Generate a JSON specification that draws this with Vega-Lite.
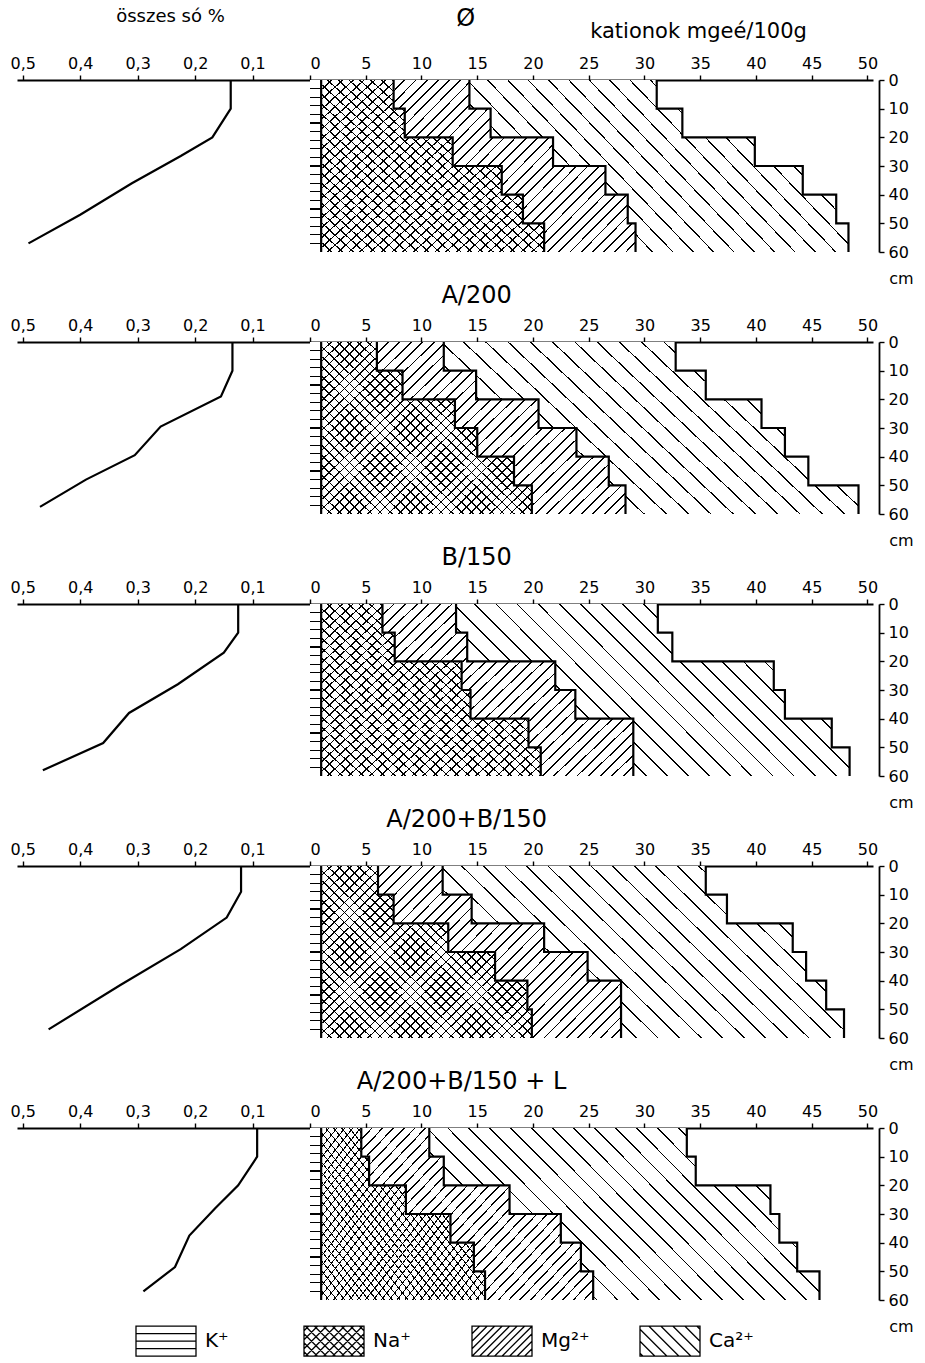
{
  "$schema": "https://vega.github.io/schema/vega-lite/v6.json",
  "background": "white",
  "padding": {"left": 10, "top": 7, "right": 5, "bottom": 5},
  "config": {
    "view": {"stroke": null},
    "font": "DejaVu Sans",
    "axis": {"domainColor": "black", "domainWidth": 1.8, "tickColor": "black", "tickWidth": 1.4, "tickSize": 5, "labelFontSize": 16, "labelColor": "black", "labelFont": "DejaVu Sans", "labelPadding": 4, "grid": false, "titleFont": "DejaVu Sans", "titleFontWeight": "normal", "titleFontSize": 18, "titleColor": "black"},
    "title": {"fontSize": 24, "font": "DejaVu Sans", "fontWeight": "normal", "color": "black", "anchor": "middle", "offset": 9}
  },
  "params": [
    {"name": "gK", "value": {"gradient": "linear", "x1": 0, "y1": 0, "x2": 0, "y2": 1, "stops": [
        {"offset":0.046,"color":"#fff"},{"offset":0.046,"color":"#000"},{"offset":0.054,"color":"#000"},{"offset":0.054,"color":"#fff"},
        {"offset":0.096,"color":"#fff"},{"offset":0.096,"color":"#000"},{"offset":0.104,"color":"#000"},{"offset":0.104,"color":"#fff"},
        {"offset":0.146,"color":"#fff"},{"offset":0.146,"color":"#000"},{"offset":0.154,"color":"#000"},{"offset":0.154,"color":"#fff"},
        {"offset":0.196,"color":"#fff"},{"offset":0.196,"color":"#000"},{"offset":0.204,"color":"#000"},{"offset":0.204,"color":"#fff"},
        {"offset":0.246,"color":"#fff"},{"offset":0.246,"color":"#000"},{"offset":0.254,"color":"#000"},{"offset":0.254,"color":"#fff"},
        {"offset":0.296,"color":"#fff"},{"offset":0.296,"color":"#000"},{"offset":0.304,"color":"#000"},{"offset":0.304,"color":"#fff"},
        {"offset":0.346,"color":"#fff"},{"offset":0.346,"color":"#000"},{"offset":0.354,"color":"#000"},{"offset":0.354,"color":"#fff"},
        {"offset":0.396,"color":"#fff"},{"offset":0.396,"color":"#000"},{"offset":0.404,"color":"#000"},{"offset":0.404,"color":"#fff"},
        {"offset":0.446,"color":"#fff"},{"offset":0.446,"color":"#000"},{"offset":0.454,"color":"#000"},{"offset":0.454,"color":"#fff"},
        {"offset":0.496,"color":"#fff"},{"offset":0.496,"color":"#000"},{"offset":0.504,"color":"#000"},{"offset":0.504,"color":"#fff"},
        {"offset":0.546,"color":"#fff"},{"offset":0.546,"color":"#000"},{"offset":0.554,"color":"#000"},{"offset":0.554,"color":"#fff"},
        {"offset":0.596,"color":"#fff"},{"offset":0.596,"color":"#000"},{"offset":0.604,"color":"#000"},{"offset":0.604,"color":"#fff"},
        {"offset":0.646,"color":"#fff"},{"offset":0.646,"color":"#000"},{"offset":0.654,"color":"#000"},{"offset":0.654,"color":"#fff"},
        {"offset":0.696,"color":"#fff"},{"offset":0.696,"color":"#000"},{"offset":0.704,"color":"#000"},{"offset":0.704,"color":"#fff"},
        {"offset":0.746,"color":"#fff"},{"offset":0.746,"color":"#000"},{"offset":0.754,"color":"#000"},{"offset":0.754,"color":"#fff"},
        {"offset":0.796,"color":"#fff"},{"offset":0.796,"color":"#000"},{"offset":0.804,"color":"#000"},{"offset":0.804,"color":"#fff"},
        {"offset":0.846,"color":"#fff"},{"offset":0.846,"color":"#000"},{"offset":0.854,"color":"#000"},{"offset":0.854,"color":"#fff"},
        {"offset":0.896,"color":"#fff"},{"offset":0.896,"color":"#000"},{"offset":0.904,"color":"#000"},{"offset":0.904,"color":"#fff"},
        {"offset":0.946,"color":"#fff"},{"offset":0.946,"color":"#000"},{"offset":0.954,"color":"#000"},{"offset":0.954,"color":"#fff"}
      ]}},
    {"name": "gNa", "value": {"gradient": "linear", "x1": 0, "y1": 0, "x2": 1.131, "y2": 0.95, "stops": [
        {"offset":0.023,"color":"#fff"},{"offset":0.023,"color":"#000"},{"offset":0.027,"color":"#000"},{"offset":0.027,"color":"#fff"},
        {"offset":0.048,"color":"#fff"},{"offset":0.048,"color":"#000"},{"offset":0.052,"color":"#000"},{"offset":0.052,"color":"#fff"},
        {"offset":0.073,"color":"#fff"},{"offset":0.073,"color":"#000"},{"offset":0.077,"color":"#000"},{"offset":0.077,"color":"#fff"},
        {"offset":0.098,"color":"#fff"},{"offset":0.098,"color":"#000"},{"offset":0.102,"color":"#000"},{"offset":0.102,"color":"#fff"},
        {"offset":0.123,"color":"#fff"},{"offset":0.123,"color":"#000"},{"offset":0.127,"color":"#000"},{"offset":0.127,"color":"#fff"},
        {"offset":0.148,"color":"#fff"},{"offset":0.148,"color":"#000"},{"offset":0.152,"color":"#000"},{"offset":0.152,"color":"#fff"},
        {"offset":0.173,"color":"#fff"},{"offset":0.173,"color":"#000"},{"offset":0.177,"color":"#000"},{"offset":0.177,"color":"#fff"},
        {"offset":0.198,"color":"#fff"},{"offset":0.198,"color":"#000"},{"offset":0.202,"color":"#000"},{"offset":0.202,"color":"#fff"},
        {"offset":0.223,"color":"#fff"},{"offset":0.223,"color":"#000"},{"offset":0.227,"color":"#000"},{"offset":0.227,"color":"#fff"},
        {"offset":0.248,"color":"#fff"},{"offset":0.248,"color":"#000"},{"offset":0.252,"color":"#000"},{"offset":0.252,"color":"#fff"},
        {"offset":0.273,"color":"#fff"},{"offset":0.273,"color":"#000"},{"offset":0.277,"color":"#000"},{"offset":0.277,"color":"#fff"},
        {"offset":0.298,"color":"#fff"},{"offset":0.298,"color":"#000"},{"offset":0.302,"color":"#000"},{"offset":0.302,"color":"#fff"},
        {"offset":0.323,"color":"#fff"},{"offset":0.323,"color":"#000"},{"offset":0.327,"color":"#000"},{"offset":0.327,"color":"#fff"},
        {"offset":0.348,"color":"#fff"},{"offset":0.348,"color":"#000"},{"offset":0.352,"color":"#000"},{"offset":0.352,"color":"#fff"},
        {"offset":0.373,"color":"#fff"},{"offset":0.373,"color":"#000"},{"offset":0.377,"color":"#000"},{"offset":0.377,"color":"#fff"},
        {"offset":0.398,"color":"#fff"},{"offset":0.398,"color":"#000"},{"offset":0.402,"color":"#000"},{"offset":0.402,"color":"#fff"},
        {"offset":0.423,"color":"#fff"},{"offset":0.423,"color":"#000"},{"offset":0.427,"color":"#000"},{"offset":0.427,"color":"#fff"},
        {"offset":0.448,"color":"#fff"},{"offset":0.448,"color":"#000"},{"offset":0.452,"color":"#000"},{"offset":0.452,"color":"#fff"},
        {"offset":0.473,"color":"#fff"},{"offset":0.473,"color":"#000"},{"offset":0.477,"color":"#000"},{"offset":0.477,"color":"#fff"},
        {"offset":0.498,"color":"#fff"},{"offset":0.498,"color":"#000"},{"offset":0.502,"color":"#000"},{"offset":0.502,"color":"#fff"},
        {"offset":0.523,"color":"#fff"},{"offset":0.523,"color":"#000"},{"offset":0.527,"color":"#000"},{"offset":0.527,"color":"#fff"},
        {"offset":0.548,"color":"#fff"},{"offset":0.548,"color":"#000"},{"offset":0.552,"color":"#000"},{"offset":0.552,"color":"#fff"},
        {"offset":0.573,"color":"#fff"},{"offset":0.573,"color":"#000"},{"offset":0.577,"color":"#000"},{"offset":0.577,"color":"#fff"},
        {"offset":0.598,"color":"#fff"},{"offset":0.598,"color":"#000"},{"offset":0.602,"color":"#000"},{"offset":0.602,"color":"#fff"},
        {"offset":0.623,"color":"#fff"},{"offset":0.623,"color":"#000"},{"offset":0.627,"color":"#000"},{"offset":0.627,"color":"#fff"},
        {"offset":0.648,"color":"#fff"},{"offset":0.648,"color":"#000"},{"offset":0.652,"color":"#000"},{"offset":0.652,"color":"#fff"},
        {"offset":0.673,"color":"#fff"},{"offset":0.673,"color":"#000"},{"offset":0.677,"color":"#000"},{"offset":0.677,"color":"#fff"},
        {"offset":0.698,"color":"#fff"},{"offset":0.698,"color":"#000"},{"offset":0.702,"color":"#000"},{"offset":0.702,"color":"#fff"},
        {"offset":0.723,"color":"#fff"},{"offset":0.723,"color":"#000"},{"offset":0.727,"color":"#000"},{"offset":0.727,"color":"#fff"},
        {"offset":0.748,"color":"#fff"},{"offset":0.748,"color":"#000"},{"offset":0.752,"color":"#000"},{"offset":0.752,"color":"#fff"},
        {"offset":0.773,"color":"#fff"},{"offset":0.773,"color":"#000"},{"offset":0.777,"color":"#000"},{"offset":0.777,"color":"#fff"},
        {"offset":0.798,"color":"#fff"},{"offset":0.798,"color":"#000"},{"offset":0.802,"color":"#000"},{"offset":0.802,"color":"#fff"},
        {"offset":0.823,"color":"#fff"},{"offset":0.823,"color":"#000"},{"offset":0.827,"color":"#000"},{"offset":0.827,"color":"#fff"},
        {"offset":0.848,"color":"#fff"},{"offset":0.848,"color":"#000"},{"offset":0.852,"color":"#000"},{"offset":0.852,"color":"#fff"},
        {"offset":0.873,"color":"#fff"},{"offset":0.873,"color":"#000"},{"offset":0.877,"color":"#000"},{"offset":0.877,"color":"#fff"},
        {"offset":0.898,"color":"#fff"},{"offset":0.898,"color":"#000"},{"offset":0.902,"color":"#000"},{"offset":0.902,"color":"#fff"},
        {"offset":0.923,"color":"#fff"},{"offset":0.923,"color":"#000"},{"offset":0.927,"color":"#000"},{"offset":0.927,"color":"#fff"},
        {"offset":0.948,"color":"#fff"},{"offset":0.948,"color":"#000"},{"offset":0.952,"color":"#000"},{"offset":0.952,"color":"#fff"},
        {"offset":0.973,"color":"#fff"},{"offset":0.973,"color":"#000"},{"offset":0.977,"color":"#000"},{"offset":0.977,"color":"#fff"}
      ]}},
    {"name": "gNa2", "value": {"gradient": "linear", "x1": 0, "y1": 1, "x2": 1.131, "y2": 0.05, "stops": [
        {"offset":0.023,"color":"rgba(0,0,0,0)"},{"offset":0.023,"color":"#000"},{"offset":0.027,"color":"#000"},{"offset":0.027,"color":"rgba(0,0,0,0)"},
        {"offset":0.048,"color":"rgba(0,0,0,0)"},{"offset":0.048,"color":"#000"},{"offset":0.052,"color":"#000"},{"offset":0.052,"color":"rgba(0,0,0,0)"},
        {"offset":0.073,"color":"rgba(0,0,0,0)"},{"offset":0.073,"color":"#000"},{"offset":0.077,"color":"#000"},{"offset":0.077,"color":"rgba(0,0,0,0)"},
        {"offset":0.098,"color":"rgba(0,0,0,0)"},{"offset":0.098,"color":"#000"},{"offset":0.102,"color":"#000"},{"offset":0.102,"color":"rgba(0,0,0,0)"},
        {"offset":0.123,"color":"rgba(0,0,0,0)"},{"offset":0.123,"color":"#000"},{"offset":0.127,"color":"#000"},{"offset":0.127,"color":"rgba(0,0,0,0)"},
        {"offset":0.148,"color":"rgba(0,0,0,0)"},{"offset":0.148,"color":"#000"},{"offset":0.152,"color":"#000"},{"offset":0.152,"color":"rgba(0,0,0,0)"},
        {"offset":0.173,"color":"rgba(0,0,0,0)"},{"offset":0.173,"color":"#000"},{"offset":0.177,"color":"#000"},{"offset":0.177,"color":"rgba(0,0,0,0)"},
        {"offset":0.198,"color":"rgba(0,0,0,0)"},{"offset":0.198,"color":"#000"},{"offset":0.202,"color":"#000"},{"offset":0.202,"color":"rgba(0,0,0,0)"},
        {"offset":0.223,"color":"rgba(0,0,0,0)"},{"offset":0.223,"color":"#000"},{"offset":0.227,"color":"#000"},{"offset":0.227,"color":"rgba(0,0,0,0)"},
        {"offset":0.248,"color":"rgba(0,0,0,0)"},{"offset":0.248,"color":"#000"},{"offset":0.252,"color":"#000"},{"offset":0.252,"color":"rgba(0,0,0,0)"},
        {"offset":0.273,"color":"rgba(0,0,0,0)"},{"offset":0.273,"color":"#000"},{"offset":0.277,"color":"#000"},{"offset":0.277,"color":"rgba(0,0,0,0)"},
        {"offset":0.298,"color":"rgba(0,0,0,0)"},{"offset":0.298,"color":"#000"},{"offset":0.302,"color":"#000"},{"offset":0.302,"color":"rgba(0,0,0,0)"},
        {"offset":0.323,"color":"rgba(0,0,0,0)"},{"offset":0.323,"color":"#000"},{"offset":0.327,"color":"#000"},{"offset":0.327,"color":"rgba(0,0,0,0)"},
        {"offset":0.348,"color":"rgba(0,0,0,0)"},{"offset":0.348,"color":"#000"},{"offset":0.352,"color":"#000"},{"offset":0.352,"color":"rgba(0,0,0,0)"},
        {"offset":0.373,"color":"rgba(0,0,0,0)"},{"offset":0.373,"color":"#000"},{"offset":0.377,"color":"#000"},{"offset":0.377,"color":"rgba(0,0,0,0)"},
        {"offset":0.398,"color":"rgba(0,0,0,0)"},{"offset":0.398,"color":"#000"},{"offset":0.402,"color":"#000"},{"offset":0.402,"color":"rgba(0,0,0,0)"},
        {"offset":0.423,"color":"rgba(0,0,0,0)"},{"offset":0.423,"color":"#000"},{"offset":0.427,"color":"#000"},{"offset":0.427,"color":"rgba(0,0,0,0)"},
        {"offset":0.448,"color":"rgba(0,0,0,0)"},{"offset":0.448,"color":"#000"},{"offset":0.452,"color":"#000"},{"offset":0.452,"color":"rgba(0,0,0,0)"},
        {"offset":0.473,"color":"rgba(0,0,0,0)"},{"offset":0.473,"color":"#000"},{"offset":0.477,"color":"#000"},{"offset":0.477,"color":"rgba(0,0,0,0)"},
        {"offset":0.498,"color":"rgba(0,0,0,0)"},{"offset":0.498,"color":"#000"},{"offset":0.502,"color":"#000"},{"offset":0.502,"color":"rgba(0,0,0,0)"},
        {"offset":0.523,"color":"rgba(0,0,0,0)"},{"offset":0.523,"color":"#000"},{"offset":0.527,"color":"#000"},{"offset":0.527,"color":"rgba(0,0,0,0)"},
        {"offset":0.548,"color":"rgba(0,0,0,0)"},{"offset":0.548,"color":"#000"},{"offset":0.552,"color":"#000"},{"offset":0.552,"color":"rgba(0,0,0,0)"},
        {"offset":0.573,"color":"rgba(0,0,0,0)"},{"offset":0.573,"color":"#000"},{"offset":0.577,"color":"#000"},{"offset":0.577,"color":"rgba(0,0,0,0)"},
        {"offset":0.598,"color":"rgba(0,0,0,0)"},{"offset":0.598,"color":"#000"},{"offset":0.602,"color":"#000"},{"offset":0.602,"color":"rgba(0,0,0,0)"},
        {"offset":0.623,"color":"rgba(0,0,0,0)"},{"offset":0.623,"color":"#000"},{"offset":0.627,"color":"#000"},{"offset":0.627,"color":"rgba(0,0,0,0)"},
        {"offset":0.648,"color":"rgba(0,0,0,0)"},{"offset":0.648,"color":"#000"},{"offset":0.652,"color":"#000"},{"offset":0.652,"color":"rgba(0,0,0,0)"},
        {"offset":0.673,"color":"rgba(0,0,0,0)"},{"offset":0.673,"color":"#000"},{"offset":0.677,"color":"#000"},{"offset":0.677,"color":"rgba(0,0,0,0)"},
        {"offset":0.698,"color":"rgba(0,0,0,0)"},{"offset":0.698,"color":"#000"},{"offset":0.702,"color":"#000"},{"offset":0.702,"color":"rgba(0,0,0,0)"},
        {"offset":0.723,"color":"rgba(0,0,0,0)"},{"offset":0.723,"color":"#000"},{"offset":0.727,"color":"#000"},{"offset":0.727,"color":"rgba(0,0,0,0)"},
        {"offset":0.748,"color":"rgba(0,0,0,0)"},{"offset":0.748,"color":"#000"},{"offset":0.752,"color":"#000"},{"offset":0.752,"color":"rgba(0,0,0,0)"},
        {"offset":0.773,"color":"rgba(0,0,0,0)"},{"offset":0.773,"color":"#000"},{"offset":0.777,"color":"#000"},{"offset":0.777,"color":"rgba(0,0,0,0)"},
        {"offset":0.798,"color":"rgba(0,0,0,0)"},{"offset":0.798,"color":"#000"},{"offset":0.802,"color":"#000"},{"offset":0.802,"color":"rgba(0,0,0,0)"},
        {"offset":0.823,"color":"rgba(0,0,0,0)"},{"offset":0.823,"color":"#000"},{"offset":0.827,"color":"#000"},{"offset":0.827,"color":"rgba(0,0,0,0)"},
        {"offset":0.848,"color":"rgba(0,0,0,0)"},{"offset":0.848,"color":"#000"},{"offset":0.852,"color":"#000"},{"offset":0.852,"color":"rgba(0,0,0,0)"},
        {"offset":0.873,"color":"rgba(0,0,0,0)"},{"offset":0.873,"color":"#000"},{"offset":0.877,"color":"#000"},{"offset":0.877,"color":"rgba(0,0,0,0)"},
        {"offset":0.898,"color":"rgba(0,0,0,0)"},{"offset":0.898,"color":"#000"},{"offset":0.902,"color":"#000"},{"offset":0.902,"color":"rgba(0,0,0,0)"},
        {"offset":0.923,"color":"rgba(0,0,0,0)"},{"offset":0.923,"color":"#000"},{"offset":0.927,"color":"#000"},{"offset":0.927,"color":"rgba(0,0,0,0)"},
        {"offset":0.948,"color":"rgba(0,0,0,0)"},{"offset":0.948,"color":"#000"},{"offset":0.952,"color":"#000"},{"offset":0.952,"color":"rgba(0,0,0,0)"},
        {"offset":0.973,"color":"rgba(0,0,0,0)"},{"offset":0.973,"color":"#000"},{"offset":0.977,"color":"#000"},{"offset":0.977,"color":"rgba(0,0,0,0)"}
      ]}},
    {"name": "gMg", "value": {"gradient": "linear", "x1": 0, "y1": 0, "x2": 1.237, "y2": 0.869, "stops": [
        {"offset":0.023,"color":"#fff"},{"offset":0.023,"color":"#000"},{"offset":0.027,"color":"#000"},{"offset":0.027,"color":"#fff"},
        {"offset":0.048,"color":"#fff"},{"offset":0.048,"color":"#000"},{"offset":0.052,"color":"#000"},{"offset":0.052,"color":"#fff"},
        {"offset":0.073,"color":"#fff"},{"offset":0.073,"color":"#000"},{"offset":0.077,"color":"#000"},{"offset":0.077,"color":"#fff"},
        {"offset":0.098,"color":"#fff"},{"offset":0.098,"color":"#000"},{"offset":0.102,"color":"#000"},{"offset":0.102,"color":"#fff"},
        {"offset":0.123,"color":"#fff"},{"offset":0.123,"color":"#000"},{"offset":0.127,"color":"#000"},{"offset":0.127,"color":"#fff"},
        {"offset":0.148,"color":"#fff"},{"offset":0.148,"color":"#000"},{"offset":0.152,"color":"#000"},{"offset":0.152,"color":"#fff"},
        {"offset":0.173,"color":"#fff"},{"offset":0.173,"color":"#000"},{"offset":0.177,"color":"#000"},{"offset":0.177,"color":"#fff"},
        {"offset":0.198,"color":"#fff"},{"offset":0.198,"color":"#000"},{"offset":0.202,"color":"#000"},{"offset":0.202,"color":"#fff"},
        {"offset":0.223,"color":"#fff"},{"offset":0.223,"color":"#000"},{"offset":0.227,"color":"#000"},{"offset":0.227,"color":"#fff"},
        {"offset":0.248,"color":"#fff"},{"offset":0.248,"color":"#000"},{"offset":0.252,"color":"#000"},{"offset":0.252,"color":"#fff"},
        {"offset":0.273,"color":"#fff"},{"offset":0.273,"color":"#000"},{"offset":0.277,"color":"#000"},{"offset":0.277,"color":"#fff"},
        {"offset":0.298,"color":"#fff"},{"offset":0.298,"color":"#000"},{"offset":0.302,"color":"#000"},{"offset":0.302,"color":"#fff"},
        {"offset":0.323,"color":"#fff"},{"offset":0.323,"color":"#000"},{"offset":0.327,"color":"#000"},{"offset":0.327,"color":"#fff"},
        {"offset":0.348,"color":"#fff"},{"offset":0.348,"color":"#000"},{"offset":0.352,"color":"#000"},{"offset":0.352,"color":"#fff"},
        {"offset":0.373,"color":"#fff"},{"offset":0.373,"color":"#000"},{"offset":0.377,"color":"#000"},{"offset":0.377,"color":"#fff"},
        {"offset":0.398,"color":"#fff"},{"offset":0.398,"color":"#000"},{"offset":0.402,"color":"#000"},{"offset":0.402,"color":"#fff"},
        {"offset":0.423,"color":"#fff"},{"offset":0.423,"color":"#000"},{"offset":0.427,"color":"#000"},{"offset":0.427,"color":"#fff"},
        {"offset":0.448,"color":"#fff"},{"offset":0.448,"color":"#000"},{"offset":0.452,"color":"#000"},{"offset":0.452,"color":"#fff"},
        {"offset":0.473,"color":"#fff"},{"offset":0.473,"color":"#000"},{"offset":0.477,"color":"#000"},{"offset":0.477,"color":"#fff"},
        {"offset":0.498,"color":"#fff"},{"offset":0.498,"color":"#000"},{"offset":0.502,"color":"#000"},{"offset":0.502,"color":"#fff"},
        {"offset":0.523,"color":"#fff"},{"offset":0.523,"color":"#000"},{"offset":0.527,"color":"#000"},{"offset":0.527,"color":"#fff"},
        {"offset":0.548,"color":"#fff"},{"offset":0.548,"color":"#000"},{"offset":0.552,"color":"#000"},{"offset":0.552,"color":"#fff"},
        {"offset":0.573,"color":"#fff"},{"offset":0.573,"color":"#000"},{"offset":0.577,"color":"#000"},{"offset":0.577,"color":"#fff"},
        {"offset":0.598,"color":"#fff"},{"offset":0.598,"color":"#000"},{"offset":0.602,"color":"#000"},{"offset":0.602,"color":"#fff"},
        {"offset":0.623,"color":"#fff"},{"offset":0.623,"color":"#000"},{"offset":0.627,"color":"#000"},{"offset":0.627,"color":"#fff"},
        {"offset":0.648,"color":"#fff"},{"offset":0.648,"color":"#000"},{"offset":0.652,"color":"#000"},{"offset":0.652,"color":"#fff"},
        {"offset":0.673,"color":"#fff"},{"offset":0.673,"color":"#000"},{"offset":0.677,"color":"#000"},{"offset":0.677,"color":"#fff"},
        {"offset":0.698,"color":"#fff"},{"offset":0.698,"color":"#000"},{"offset":0.702,"color":"#000"},{"offset":0.702,"color":"#fff"},
        {"offset":0.723,"color":"#fff"},{"offset":0.723,"color":"#000"},{"offset":0.727,"color":"#000"},{"offset":0.727,"color":"#fff"},
        {"offset":0.748,"color":"#fff"},{"offset":0.748,"color":"#000"},{"offset":0.752,"color":"#000"},{"offset":0.752,"color":"#fff"},
        {"offset":0.773,"color":"#fff"},{"offset":0.773,"color":"#000"},{"offset":0.777,"color":"#000"},{"offset":0.777,"color":"#fff"},
        {"offset":0.798,"color":"#fff"},{"offset":0.798,"color":"#000"},{"offset":0.802,"color":"#000"},{"offset":0.802,"color":"#fff"},
        {"offset":0.823,"color":"#fff"},{"offset":0.823,"color":"#000"},{"offset":0.827,"color":"#000"},{"offset":0.827,"color":"#fff"},
        {"offset":0.848,"color":"#fff"},{"offset":0.848,"color":"#000"},{"offset":0.852,"color":"#000"},{"offset":0.852,"color":"#fff"},
        {"offset":0.873,"color":"#fff"},{"offset":0.873,"color":"#000"},{"offset":0.877,"color":"#000"},{"offset":0.877,"color":"#fff"},
        {"offset":0.898,"color":"#fff"},{"offset":0.898,"color":"#000"},{"offset":0.902,"color":"#000"},{"offset":0.902,"color":"#fff"},
        {"offset":0.923,"color":"#fff"},{"offset":0.923,"color":"#000"},{"offset":0.927,"color":"#000"},{"offset":0.927,"color":"#fff"},
        {"offset":0.948,"color":"#fff"},{"offset":0.948,"color":"#000"},{"offset":0.952,"color":"#000"},{"offset":0.952,"color":"#fff"},
        {"offset":0.973,"color":"#fff"},{"offset":0.973,"color":"#000"},{"offset":0.977,"color":"#000"},{"offset":0.977,"color":"#fff"}
      ]}},
    {"name": "gCa", "value": {"gradient": "linear", "x1": 0, "y1": 1, "x2": 1.805, "y2": 0.214, "stops": [
        {"offset":0.024,"color":"#fff"},{"offset":0.024,"color":"#000"},{"offset":0.026,"color":"#000"},{"offset":0.026,"color":"#fff"},
        {"offset":0.049,"color":"#fff"},{"offset":0.049,"color":"#000"},{"offset":0.051,"color":"#000"},{"offset":0.051,"color":"#fff"},
        {"offset":0.074,"color":"#fff"},{"offset":0.074,"color":"#000"},{"offset":0.076,"color":"#000"},{"offset":0.076,"color":"#fff"},
        {"offset":0.099,"color":"#fff"},{"offset":0.099,"color":"#000"},{"offset":0.101,"color":"#000"},{"offset":0.101,"color":"#fff"},
        {"offset":0.124,"color":"#fff"},{"offset":0.124,"color":"#000"},{"offset":0.126,"color":"#000"},{"offset":0.126,"color":"#fff"},
        {"offset":0.149,"color":"#fff"},{"offset":0.149,"color":"#000"},{"offset":0.151,"color":"#000"},{"offset":0.151,"color":"#fff"},
        {"offset":0.174,"color":"#fff"},{"offset":0.174,"color":"#000"},{"offset":0.176,"color":"#000"},{"offset":0.176,"color":"#fff"},
        {"offset":0.199,"color":"#fff"},{"offset":0.199,"color":"#000"},{"offset":0.201,"color":"#000"},{"offset":0.201,"color":"#fff"},
        {"offset":0.224,"color":"#fff"},{"offset":0.224,"color":"#000"},{"offset":0.226,"color":"#000"},{"offset":0.226,"color":"#fff"},
        {"offset":0.249,"color":"#fff"},{"offset":0.249,"color":"#000"},{"offset":0.251,"color":"#000"},{"offset":0.251,"color":"#fff"},
        {"offset":0.274,"color":"#fff"},{"offset":0.274,"color":"#000"},{"offset":0.276,"color":"#000"},{"offset":0.276,"color":"#fff"},
        {"offset":0.299,"color":"#fff"},{"offset":0.299,"color":"#000"},{"offset":0.301,"color":"#000"},{"offset":0.301,"color":"#fff"},
        {"offset":0.324,"color":"#fff"},{"offset":0.324,"color":"#000"},{"offset":0.326,"color":"#000"},{"offset":0.326,"color":"#fff"},
        {"offset":0.349,"color":"#fff"},{"offset":0.349,"color":"#000"},{"offset":0.351,"color":"#000"},{"offset":0.351,"color":"#fff"},
        {"offset":0.374,"color":"#fff"},{"offset":0.374,"color":"#000"},{"offset":0.376,"color":"#000"},{"offset":0.376,"color":"#fff"},
        {"offset":0.399,"color":"#fff"},{"offset":0.399,"color":"#000"},{"offset":0.401,"color":"#000"},{"offset":0.401,"color":"#fff"},
        {"offset":0.424,"color":"#fff"},{"offset":0.424,"color":"#000"},{"offset":0.426,"color":"#000"},{"offset":0.426,"color":"#fff"},
        {"offset":0.449,"color":"#fff"},{"offset":0.449,"color":"#000"},{"offset":0.451,"color":"#000"},{"offset":0.451,"color":"#fff"},
        {"offset":0.474,"color":"#fff"},{"offset":0.474,"color":"#000"},{"offset":0.476,"color":"#000"},{"offset":0.476,"color":"#fff"},
        {"offset":0.499,"color":"#fff"},{"offset":0.499,"color":"#000"},{"offset":0.501,"color":"#000"},{"offset":0.501,"color":"#fff"},
        {"offset":0.524,"color":"#fff"},{"offset":0.524,"color":"#000"},{"offset":0.526,"color":"#000"},{"offset":0.526,"color":"#fff"},
        {"offset":0.549,"color":"#fff"},{"offset":0.549,"color":"#000"},{"offset":0.551,"color":"#000"},{"offset":0.551,"color":"#fff"},
        {"offset":0.574,"color":"#fff"},{"offset":0.574,"color":"#000"},{"offset":0.576,"color":"#000"},{"offset":0.576,"color":"#fff"},
        {"offset":0.599,"color":"#fff"},{"offset":0.599,"color":"#000"},{"offset":0.601,"color":"#000"},{"offset":0.601,"color":"#fff"},
        {"offset":0.624,"color":"#fff"},{"offset":0.624,"color":"#000"},{"offset":0.626,"color":"#000"},{"offset":0.626,"color":"#fff"},
        {"offset":0.649,"color":"#fff"},{"offset":0.649,"color":"#000"},{"offset":0.651,"color":"#000"},{"offset":0.651,"color":"#fff"},
        {"offset":0.674,"color":"#fff"},{"offset":0.674,"color":"#000"},{"offset":0.676,"color":"#000"},{"offset":0.676,"color":"#fff"},
        {"offset":0.699,"color":"#fff"},{"offset":0.699,"color":"#000"},{"offset":0.701,"color":"#000"},{"offset":0.701,"color":"#fff"}
      ]}}
  ],
  "datasets": {
    "cat": [
      {"panel": "Ø", "depth": 0, "K": 1, "Na": 6.5, "Mg": 6.8, "Ca": 16.8},
      {"panel": "Ø", "depth": 10, "K": 1, "Na": 7.5, "Mg": 7.7, "Ca": 17.2},
      {"panel": "Ø", "depth": 20, "K": 1, "Na": 11.8, "Mg": 9.0, "Ca": 18.1},
      {"panel": "Ø", "depth": 30, "K": 1, "Na": 16.2, "Mg": 9.3, "Ca": 17.7},
      {"panel": "Ø", "depth": 40, "K": 1, "Na": 18.1, "Mg": 9.4, "Ca": 18.7},
      {"panel": "Ø", "depth": 50, "K": 1, "Na": 20.0, "Mg": 8.2, "Ca": 19.1},
      {"panel": "Ø", "depth": 60, "K": 1, "Na": 20.0, "Mg": 8.2, "Ca": 19.1},
      {"panel": "A/200", "depth": 0, "K": 1, "Na": 5.0, "Mg": 6.0, "Ca": 20.8},
      {"panel": "A/200", "depth": 10, "K": 1, "Na": 7.3, "Mg": 6.6, "Ca": 20.6},
      {"panel": "A/200", "depth": 20, "K": 1, "Na": 12.0, "Mg": 7.5, "Ca": 20.0},
      {"panel": "A/200", "depth": 30, "K": 1, "Na": 14.0, "Mg": 8.9, "Ca": 18.7},
      {"panel": "A/200", "depth": 40, "K": 1, "Na": 17.3, "Mg": 8.5, "Ca": 17.9},
      {"panel": "A/200", "depth": 50, "K": 1, "Na": 18.9, "Mg": 8.4, "Ca": 20.9},
      {"panel": "A/200", "depth": 60, "K": 1, "Na": 18.9, "Mg": 8.4, "Ca": 20.9},
      {"panel": "B/150", "depth": 0, "K": 1, "Na": 5.5, "Mg": 6.6, "Ca": 18.1},
      {"panel": "B/150", "depth": 10, "K": 1, "Na": 6.6, "Mg": 6.5, "Ca": 18.4},
      {"panel": "B/150", "depth": 20, "K": 1, "Na": 12.6, "Mg": 8.4, "Ca": 19.6},
      {"panel": "B/150", "depth": 30, "K": 1, "Na": 13.4, "Mg": 9.4, "Ca": 18.8},
      {"panel": "B/150", "depth": 40, "K": 1, "Na": 18.6, "Mg": 9.4, "Ca": 17.8},
      {"panel": "B/150", "depth": 50, "K": 1, "Na": 19.7, "Mg": 8.3, "Ca": 19.4},
      {"panel": "B/150", "depth": 60, "K": 1, "Na": 19.7, "Mg": 8.3, "Ca": 19.4},
      {"panel": "A/200+B/150", "depth": 0, "K": 1, "Na": 5.1, "Mg": 5.8, "Ca": 23.6},
      {"panel": "A/200+B/150", "depth": 10, "K": 1, "Na": 6.5, "Mg": 7.0, "Ca": 22.9},
      {"panel": "A/200+B/150", "depth": 20, "K": 1, "Na": 11.4, "Mg": 8.6, "Ca": 22.3},
      {"panel": "A/200+B/150", "depth": 30, "K": 1, "Na": 15.6, "Mg": 8.3, "Ca": 19.6},
      {"panel": "A/200+B/150", "depth": 40, "K": 1, "Na": 18.5, "Mg": 8.4, "Ca": 18.4},
      {"panel": "A/200+B/150", "depth": 50, "K": 1, "Na": 18.9, "Mg": 8.0, "Ca": 20.0},
      {"panel": "A/200+B/150", "depth": 60, "K": 1, "Na": 18.9, "Mg": 8.0, "Ca": 20.0},
      {"panel": "A/200+B/150+L", "depth": 0, "K": 1, "Na": 3.6, "Mg": 6.1, "Ca": 23.1},
      {"panel": "A/200+B/150+L", "depth": 10, "K": 1, "Na": 4.3, "Mg": 6.7, "Ca": 22.6},
      {"panel": "A/200+B/150+L", "depth": 20, "K": 1, "Na": 7.6, "Mg": 9.3, "Ca": 23.4},
      {"panel": "A/200+B/150+L", "depth": 30, "K": 1, "Na": 11.6, "Mg": 9.9, "Ca": 19.6},
      {"panel": "A/200+B/150+L", "depth": 40, "K": 1, "Na": 13.7, "Mg": 9.6, "Ca": 19.4},
      {"panel": "A/200+B/150+L", "depth": 50, "K": 1, "Na": 14.7, "Mg": 9.7, "Ca": 20.3},
      {"panel": "A/200+B/150+L", "depth": 60, "K": 1, "Na": 14.7, "Mg": 9.7, "Ca": 20.3}
    ],
    "salt": [
      {"panel": "Ø", "depth": 0, "salt": 0.138},
      {"panel": "Ø", "depth": 10, "salt": 0.138},
      {"panel": "Ø", "depth": 20, "salt": 0.17},
      {"panel": "Ø", "depth": 26.5, "salt": 0.225},
      {"panel": "Ø", "depth": 36, "salt": 0.31},
      {"panel": "Ø", "depth": 47, "salt": 0.4},
      {"panel": "Ø", "depth": 57, "salt": 0.49},
      {"panel": "A/200", "depth": 0, "salt": 0.135},
      {"panel": "A/200", "depth": 10, "salt": 0.135},
      {"panel": "A/200", "depth": 19, "salt": 0.155},
      {"panel": "A/200", "depth": 29.5, "salt": 0.26},
      {"panel": "A/200", "depth": 39.5, "salt": 0.305},
      {"panel": "A/200", "depth": 48, "salt": 0.39},
      {"panel": "A/200", "depth": 57.5, "salt": 0.47},
      {"panel": "B/150", "depth": 0, "salt": 0.125},
      {"panel": "B/150", "depth": 10, "salt": 0.125},
      {"panel": "B/150", "depth": 17, "salt": 0.15},
      {"panel": "B/150", "depth": 28, "salt": 0.23},
      {"panel": "B/150", "depth": 38, "salt": 0.315},
      {"panel": "B/150", "depth": 48.5, "salt": 0.36},
      {"panel": "B/150", "depth": 58, "salt": 0.465},
      {"panel": "A/200+B/150", "depth": 0, "salt": 0.12},
      {"panel": "A/200+B/150", "depth": 9, "salt": 0.12},
      {"panel": "A/200+B/150", "depth": 18, "salt": 0.145},
      {"panel": "A/200+B/150", "depth": 29, "salt": 0.225},
      {"panel": "A/200+B/150", "depth": 41.5, "salt": 0.33},
      {"panel": "A/200+B/150", "depth": 57, "salt": 0.455},
      {"panel": "A/200+B/150+L", "depth": 0, "salt": 0.092},
      {"panel": "A/200+B/150+L", "depth": 10, "salt": 0.092},
      {"panel": "A/200+B/150+L", "depth": 20, "salt": 0.125},
      {"panel": "A/200+B/150+L", "depth": 28, "salt": 0.165},
      {"panel": "A/200+B/150+L", "depth": 37.5, "salt": 0.21},
      {"panel": "A/200+B/150+L", "depth": 48.5, "salt": 0.235},
      {"panel": "A/200+B/150+L", "depth": 57, "salt": 0.29}
    ]
  },
  "spacing": -2,
  "vconcat": [
    {
      "title": {"text": "Ø", "offset": -24, "dx": 4},
      "bounds": "flush", "spacing": 0,
      "hconcat": [
        {
          "width": 293, "height": 172,
          "data": {"name": "salt"},
          "transform": [{"filter": "datum.panel === 'Ø'"}],
          "mark": {"type": "line", "color": "black", "strokeWidth": 2.2},
          "encoding": {
            "x": {"field": "salt", "type": "quantitative", "scale": {"domain": [0, 0.51], "reverse": true, "nice": false, "zero": false},
                  "axis": {"orient": "top", "values": [0.5, 0.4, 0.3, 0.2, 0.1], "labelExpr": "replace(format(datum.value, '.1f'), '.', ',')", "title": "összes só %", "titlePadding": 30, "titleX": 153}},
            "y": {"field": "depth", "type": "quantitative", "scale": {"domain": [0, 60], "reverse": true, "nice": false}, "axis": null},
            "order": {"field": "depth", "type": "quantitative"}
          }
        },
        {
          "width": 563, "height": 172,
          "data": {"name": "cat"},
          "transform": [{"filter": "datum.panel === 'Ø'"}, {"fold": ["K", "Na", "Mg", "Ca"], "as": ["ion", "val"]}, {"stack": "val", "groupby": ["depth"], "as": ["x0", "x1"]}],
          "encoding": {
            "y": {"field": "depth", "type": "quantitative", "scale": {"domain": [0, 60], "reverse": true, "nice": false},
                  "axis": {"orient": "right", "offset": 6, "values": [0, 10, 20, 30, 40, 50, 60], "title": "cm", "titleFontSize": 16, "titleAngle": 0, "titleX": 22, "titleY": 198, "titleAlign": "center", "titleBaseline": "middle"}}
          },
          "layer": [
            {"transform": [{"filter": "datum.ion === 'K'"}], "mark": {"type": "area", "orient": "horizontal", "interpolate": "step-before", "fill": {"expr": "gK"}},
             "encoding": {"x": {"field": "x0", "type": "quantitative", "scale": {"domain": [0, 50.5], "nice": false}, "axis": {"orient": "top", "values": [0, 5, 10, 15, 20, 25, 30, 35, 40, 45, 50], "title": "kationok mgeé/100g", "titleFontSize": 21, "titlePadding": 14, "titleX": 388}}, "x2": {"field": "x1"}}},
            {"transform": [{"filter": "datum.ion === 'Na'"}], "mark": {"type": "area", "orient": "horizontal", "interpolate": "step-before", "fill": {"expr": "gNa"}},
             "encoding": {"x": {"field": "x0", "type": "quantitative", "axis": {"orient": "top", "values": [0, 5, 10, 15, 20, 25, 30, 35, 40, 45, 50], "title": "kationok mgeé/100g", "titleFontSize": 21, "titlePadding": 14, "titleX": 388}}, "x2": {"field": "x1"}}},
            {"transform": [{"filter": "datum.ion === 'Na'"}], "mark": {"type": "area", "orient": "horizontal", "interpolate": "step-before", "fill": {"expr": "gNa2"}},
             "encoding": {"x": {"field": "x0", "type": "quantitative", "axis": {"orient": "top", "values": [0, 5, 10, 15, 20, 25, 30, 35, 40, 45, 50], "title": "kationok mgeé/100g", "titleFontSize": 21, "titlePadding": 14, "titleX": 388}}, "x2": {"field": "x1"}}},
            {"transform": [{"filter": "datum.ion === 'Mg'"}], "mark": {"type": "area", "orient": "horizontal", "interpolate": "step-before", "fill": {"expr": "gMg"}},
             "encoding": {"x": {"field": "x0", "type": "quantitative", "axis": {"orient": "top", "values": [0, 5, 10, 15, 20, 25, 30, 35, 40, 45, 50], "title": "kationok mgeé/100g", "titleFontSize": 21, "titlePadding": 14, "titleX": 388}}, "x2": {"field": "x1"}}},
            {"transform": [{"filter": "datum.ion === 'Ca'"}], "mark": {"type": "area", "orient": "horizontal", "interpolate": "step-before", "fill": {"expr": "gCa"}},
             "encoding": {"x": {"field": "x0", "type": "quantitative", "axis": {"orient": "top", "values": [0, 5, 10, 15, 20, 25, 30, 35, 40, 45, 50], "title": "kationok mgeé/100g", "titleFontSize": 21, "titlePadding": 14, "titleX": 388}}, "x2": {"field": "x1"}}},
            {"mark": {"type": "line", "interpolate": "step-before", "color": "black", "strokeWidth": 2.2},
             "encoding": {"x": {"field": "x1", "type": "quantitative", "axis": {"orient": "top", "values": [0, 5, 10, 15, 20, 25, 30, 35, 40, 45, 50], "title": "kationok mgeé/100g", "titleFontSize": 21, "titlePadding": 14, "titleX": 388}},
                          "detail": {"field": "ion", "type": "nominal"}, "order": {"field": "depth", "type": "quantitative"}}},
            {"mark": {"type": "point", "opacity": 0},
             "encoding": {"x": {"field": "x1", "type": "quantitative", "axis": {"orient": "top", "values": [0, 5, 10, 15, 20, 25, 30, 35, 40, 45, 50], "title": "kationok mgeé/100g", "titleFontSize": 21, "titlePadding": 14, "titleX": 388}},
               "color": {"field": "ion", "type": "nominal", "scale": {"domain": ["K", "Na", "Mg", "Ca"], "range": ["#000", "#000", "#000", "#000"]},
                 "legend": {"orient": "none", "legendX": 118, "legendY": 1230, "direction": "horizontal", "columns": 4, "title": null,
                   "symbolType": {"expr": "datum.value === 'K' ? 'M-1,-0.5H1V0.5H-1ZM-1,-0.25H1M-1,0H1M-1,0.25H1' : datum.value === 'Na' ? 'M-1,-0.5H1V0.5H-1ZM-1,0.35L-0.85,0.5M-1,0.05L-0.55,0.5M-1,-0.25L-0.25,0.5M-0.95,-0.5L0.05,0.5M-0.65,-0.5L0.35,0.5M-0.35,-0.5L0.65,0.5M-0.05,-0.5L0.95,0.5M0.25,-0.5L1,0.25M0.55,-0.5L1,-0.05M0.85,-0.5L1,-0.35M-0.85,-0.5L-1,-0.35M-0.55,-0.5L-1,-0.05M-0.25,-0.5L-1,0.25M0.05,-0.5L-0.95,0.5M0.35,-0.5L-0.65,0.5M0.65,-0.5L-0.35,0.5M0.95,-0.5L-0.05,0.5M1,-0.25L0.25,0.5M1,0.05L0.55,0.5M1,0.35L0.85,0.5' : datum.value === 'Mg' ? 'M-1,-0.5H1V0.5H-1ZM-0.75,-0.5L-1,-0.25M-0.5,-0.5L-1,0M-0.25,-0.5L-1,0.25M0,-0.5L-1,0.5M0.25,-0.5L-0.75,0.5M0.5,-0.5L-0.5,0.5M0.75,-0.5L-0.25,0.5M1,-0.5L0,0.5M1,-0.25L0.25,0.5M1,0L0.5,0.5M1,0.25L0.75,0.5' : 'M-1,-0.5H1V0.5H-1ZM-1,0.4L-0.9,0.5M-1,0L-0.5,0.5M-1,-0.4L-0.1,0.5M-0.7,-0.5L0.3,0.5M-0.3,-0.5L0.7,0.5M0.1,-0.5L1,0.4M0.5,-0.5L1,0M0.9,-0.5L1,-0.4'"},
                   "symbolSize": 3600, "symbolStrokeColor": "black", "symbolFillColor": "white", "symbolStrokeWidth": 1.3, "symbolOpacity": 1, "labelFontSize": 20, "labelColor": "black", "labelOffset": 8, "columnPadding": 47, "gridAlign": "all",
                   "labelExpr": "datum.label == 'K' ? 'K⁺' : datum.label == 'Na' ? 'Na⁺' : datum.label == 'Mg' ? 'Mg²⁺' : 'Ca²⁺'",
                   "encode": {"symbols": {"fill": {"value": "white"}, "stroke": {"value": "black"}, "strokeWidth": {"value": 1.3}, "opacity": {"value": 1}}}
                 }
               }
             }
            }
          ]
        }
      ]
    },
    {
      "title": {"text": "A/200", "dx": 15},
      "bounds": "flush", "spacing": 0,
      "hconcat": [
        {
          "width": 293, "height": 172,
          "data": {"name": "salt"},
          "transform": [{"filter": "datum.panel === 'A/200'"}],
          "mark": {"type": "line", "color": "black", "strokeWidth": 2.2},
          "encoding": {
            "x": {"field": "salt", "type": "quantitative", "scale": {"domain": [0, 0.51], "reverse": true, "nice": false, "zero": false},
                  "axis": {"orient": "top", "values": [0.5, 0.4, 0.3, 0.2, 0.1], "labelExpr": "replace(format(datum.value, '.1f'), '.', ',')", "title": null}},
            "y": {"field": "depth", "type": "quantitative", "scale": {"domain": [0, 60], "reverse": true, "nice": false}, "axis": null},
            "order": {"field": "depth", "type": "quantitative"}
          }
        },
        {
          "width": 563, "height": 172,
          "data": {"name": "cat"},
          "transform": [{"filter": "datum.panel === 'A/200'"}, {"fold": ["K", "Na", "Mg", "Ca"], "as": ["ion", "val"]}, {"stack": "val", "groupby": ["depth"], "as": ["x0", "x1"]}],
          "encoding": {
            "y": {"field": "depth", "type": "quantitative", "scale": {"domain": [0, 60], "reverse": true, "nice": false},
                  "axis": {"orient": "right", "offset": 6, "values": [0, 10, 20, 30, 40, 50, 60], "title": "cm", "titleFontSize": 16, "titleAngle": 0, "titleX": 22, "titleY": 198, "titleAlign": "center", "titleBaseline": "middle"}}
          },
          "layer": [
            {"transform": [{"filter": "datum.ion === 'K'"}], "mark": {"type": "area", "orient": "horizontal", "interpolate": "step-before", "fill": {"expr": "gK"}},
             "encoding": {"x": {"field": "x0", "type": "quantitative", "scale": {"domain": [0, 50.5], "nice": false}, "axis": {"orient": "top", "values": [0, 5, 10, 15, 20, 25, 30, 35, 40, 45, 50], "title": null}}, "x2": {"field": "x1"}}},
            {"transform": [{"filter": "datum.ion === 'Na'"}], "mark": {"type": "area", "orient": "horizontal", "interpolate": "step-before", "fill": {"expr": "gNa"}},
             "encoding": {"x": {"field": "x0", "type": "quantitative", "axis": {"orient": "top", "values": [0, 5, 10, 15, 20, 25, 30, 35, 40, 45, 50], "title": null}}, "x2": {"field": "x1"}}},
            {"transform": [{"filter": "datum.ion === 'Na'"}], "mark": {"type": "area", "orient": "horizontal", "interpolate": "step-before", "fill": {"expr": "gNa2"}},
             "encoding": {"x": {"field": "x0", "type": "quantitative", "axis": {"orient": "top", "values": [0, 5, 10, 15, 20, 25, 30, 35, 40, 45, 50], "title": null}}, "x2": {"field": "x1"}}},
            {"transform": [{"filter": "datum.ion === 'Mg'"}], "mark": {"type": "area", "orient": "horizontal", "interpolate": "step-before", "fill": {"expr": "gMg"}},
             "encoding": {"x": {"field": "x0", "type": "quantitative", "axis": {"orient": "top", "values": [0, 5, 10, 15, 20, 25, 30, 35, 40, 45, 50], "title": null}}, "x2": {"field": "x1"}}},
            {"transform": [{"filter": "datum.ion === 'Ca'"}], "mark": {"type": "area", "orient": "horizontal", "interpolate": "step-before", "fill": {"expr": "gCa"}},
             "encoding": {"x": {"field": "x0", "type": "quantitative", "axis": {"orient": "top", "values": [0, 5, 10, 15, 20, 25, 30, 35, 40, 45, 50], "title": null}}, "x2": {"field": "x1"}}},
            {"mark": {"type": "line", "interpolate": "step-before", "color": "black", "strokeWidth": 2.2},
             "encoding": {"x": {"field": "x1", "type": "quantitative", "axis": {"orient": "top", "values": [0, 5, 10, 15, 20, 25, 30, 35, 40, 45, 50], "title": null}},
                          "detail": {"field": "ion", "type": "nominal"}, "order": {"field": "depth", "type": "quantitative"}}}
          ]
        }
      ]
    },
    {
      "title": {"text": "B/150", "dx": 15},
      "bounds": "flush", "spacing": 0,
      "hconcat": [
        {
          "width": 293, "height": 172,
          "data": {"name": "salt"},
          "transform": [{"filter": "datum.panel === 'B/150'"}],
          "mark": {"type": "line", "color": "black", "strokeWidth": 2.2},
          "encoding": {
            "x": {"field": "salt", "type": "quantitative", "scale": {"domain": [0, 0.51], "reverse": true, "nice": false, "zero": false},
                  "axis": {"orient": "top", "values": [0.5, 0.4, 0.3, 0.2, 0.1], "labelExpr": "replace(format(datum.value, '.1f'), '.', ',')", "title": null}},
            "y": {"field": "depth", "type": "quantitative", "scale": {"domain": [0, 60], "reverse": true, "nice": false}, "axis": null},
            "order": {"field": "depth", "type": "quantitative"}
          }
        },
        {
          "width": 563, "height": 172,
          "data": {"name": "cat"},
          "transform": [{"filter": "datum.panel === 'B/150'"}, {"fold": ["K", "Na", "Mg", "Ca"], "as": ["ion", "val"]}, {"stack": "val", "groupby": ["depth"], "as": ["x0", "x1"]}],
          "encoding": {
            "y": {"field": "depth", "type": "quantitative", "scale": {"domain": [0, 60], "reverse": true, "nice": false},
                  "axis": {"orient": "right", "offset": 6, "values": [0, 10, 20, 30, 40, 50, 60], "title": "cm", "titleFontSize": 16, "titleAngle": 0, "titleX": 22, "titleY": 198, "titleAlign": "center", "titleBaseline": "middle"}}
          },
          "layer": [
            {"transform": [{"filter": "datum.ion === 'K'"}], "mark": {"type": "area", "orient": "horizontal", "interpolate": "step-before", "fill": {"expr": "gK"}},
             "encoding": {"x": {"field": "x0", "type": "quantitative", "scale": {"domain": [0, 50.5], "nice": false}, "axis": {"orient": "top", "values": [0, 5, 10, 15, 20, 25, 30, 35, 40, 45, 50], "title": null}}, "x2": {"field": "x1"}}},
            {"transform": [{"filter": "datum.ion === 'Na'"}], "mark": {"type": "area", "orient": "horizontal", "interpolate": "step-before", "fill": {"expr": "gNa"}},
             "encoding": {"x": {"field": "x0", "type": "quantitative", "axis": {"orient": "top", "values": [0, 5, 10, 15, 20, 25, 30, 35, 40, 45, 50], "title": null}}, "x2": {"field": "x1"}}},
            {"transform": [{"filter": "datum.ion === 'Na'"}], "mark": {"type": "area", "orient": "horizontal", "interpolate": "step-before", "fill": {"expr": "gNa2"}},
             "encoding": {"x": {"field": "x0", "type": "quantitative", "axis": {"orient": "top", "values": [0, 5, 10, 15, 20, 25, 30, 35, 40, 45, 50], "title": null}}, "x2": {"field": "x1"}}},
            {"transform": [{"filter": "datum.ion === 'Mg'"}], "mark": {"type": "area", "orient": "horizontal", "interpolate": "step-before", "fill": {"expr": "gMg"}},
             "encoding": {"x": {"field": "x0", "type": "quantitative", "axis": {"orient": "top", "values": [0, 5, 10, 15, 20, 25, 30, 35, 40, 45, 50], "title": null}}, "x2": {"field": "x1"}}},
            {"transform": [{"filter": "datum.ion === 'Ca'"}], "mark": {"type": "area", "orient": "horizontal", "interpolate": "step-before", "fill": {"expr": "gCa"}},
             "encoding": {"x": {"field": "x0", "type": "quantitative", "axis": {"orient": "top", "values": [0, 5, 10, 15, 20, 25, 30, 35, 40, 45, 50], "title": null}}, "x2": {"field": "x1"}}},
            {"mark": {"type": "line", "interpolate": "step-before", "color": "black", "strokeWidth": 2.2},
             "encoding": {"x": {"field": "x1", "type": "quantitative", "axis": {"orient": "top", "values": [0, 5, 10, 15, 20, 25, 30, 35, 40, 45, 50], "title": null}},
                          "detail": {"field": "ion", "type": "nominal"}, "order": {"field": "depth", "type": "quantitative"}}}
          ]
        }
      ]
    },
    {
      "title": {"text": "A/200+B/150", "dx": 5},
      "bounds": "flush", "spacing": 0,
      "hconcat": [
        {
          "width": 293, "height": 172,
          "data": {"name": "salt"},
          "transform": [{"filter": "datum.panel === 'A/200+B/150'"}],
          "mark": {"type": "line", "color": "black", "strokeWidth": 2.2},
          "encoding": {
            "x": {"field": "salt", "type": "quantitative", "scale": {"domain": [0, 0.51], "reverse": true, "nice": false, "zero": false},
                  "axis": {"orient": "top", "values": [0.5, 0.4, 0.3, 0.2, 0.1], "labelExpr": "replace(format(datum.value, '.1f'), '.', ',')", "title": null}},
            "y": {"field": "depth", "type": "quantitative", "scale": {"domain": [0, 60], "reverse": true, "nice": false}, "axis": null},
            "order": {"field": "depth", "type": "quantitative"}
          }
        },
        {
          "width": 563, "height": 172,
          "data": {"name": "cat"},
          "transform": [{"filter": "datum.panel === 'A/200+B/150'"}, {"fold": ["K", "Na", "Mg", "Ca"], "as": ["ion", "val"]}, {"stack": "val", "groupby": ["depth"], "as": ["x0", "x1"]}],
          "encoding": {
            "y": {"field": "depth", "type": "quantitative", "scale": {"domain": [0, 60], "reverse": true, "nice": false},
                  "axis": {"orient": "right", "offset": 6, "values": [0, 10, 20, 30, 40, 50, 60], "title": "cm", "titleFontSize": 16, "titleAngle": 0, "titleX": 22, "titleY": 198, "titleAlign": "center", "titleBaseline": "middle"}}
          },
          "layer": [
            {"transform": [{"filter": "datum.ion === 'K'"}], "mark": {"type": "area", "orient": "horizontal", "interpolate": "step-before", "fill": {"expr": "gK"}},
             "encoding": {"x": {"field": "x0", "type": "quantitative", "scale": {"domain": [0, 50.5], "nice": false}, "axis": {"orient": "top", "values": [0, 5, 10, 15, 20, 25, 30, 35, 40, 45, 50], "title": null}}, "x2": {"field": "x1"}}},
            {"transform": [{"filter": "datum.ion === 'Na'"}], "mark": {"type": "area", "orient": "horizontal", "interpolate": "step-before", "fill": {"expr": "gNa"}},
             "encoding": {"x": {"field": "x0", "type": "quantitative", "axis": {"orient": "top", "values": [0, 5, 10, 15, 20, 25, 30, 35, 40, 45, 50], "title": null}}, "x2": {"field": "x1"}}},
            {"transform": [{"filter": "datum.ion === 'Na'"}], "mark": {"type": "area", "orient": "horizontal", "interpolate": "step-before", "fill": {"expr": "gNa2"}},
             "encoding": {"x": {"field": "x0", "type": "quantitative", "axis": {"orient": "top", "values": [0, 5, 10, 15, 20, 25, 30, 35, 40, 45, 50], "title": null}}, "x2": {"field": "x1"}}},
            {"transform": [{"filter": "datum.ion === 'Mg'"}], "mark": {"type": "area", "orient": "horizontal", "interpolate": "step-before", "fill": {"expr": "gMg"}},
             "encoding": {"x": {"field": "x0", "type": "quantitative", "axis": {"orient": "top", "values": [0, 5, 10, 15, 20, 25, 30, 35, 40, 45, 50], "title": null}}, "x2": {"field": "x1"}}},
            {"transform": [{"filter": "datum.ion === 'Ca'"}], "mark": {"type": "area", "orient": "horizontal", "interpolate": "step-before", "fill": {"expr": "gCa"}},
             "encoding": {"x": {"field": "x0", "type": "quantitative", "axis": {"orient": "top", "values": [0, 5, 10, 15, 20, 25, 30, 35, 40, 45, 50], "title": null}}, "x2": {"field": "x1"}}},
            {"mark": {"type": "line", "interpolate": "step-before", "color": "black", "strokeWidth": 2.2},
             "encoding": {"x": {"field": "x1", "type": "quantitative", "axis": {"orient": "top", "values": [0, 5, 10, 15, 20, 25, 30, 35, 40, 45, 50], "title": null}},
                          "detail": {"field": "ion", "type": "nominal"}, "order": {"field": "depth", "type": "quantitative"}}}
          ]
        }
      ]
    },
    {
      "title": {"text": "A/200+B/150 + L", "dx": 0},
      "bounds": "flush", "spacing": 0,
      "hconcat": [
        {
          "width": 293, "height": 172,
          "data": {"name": "salt"},
          "transform": [{"filter": "datum.panel === 'A/200+B/150+L'"}],
          "mark": {"type": "line", "color": "black", "strokeWidth": 2.2},
          "encoding": {
            "x": {"field": "salt", "type": "quantitative", "scale": {"domain": [0, 0.51], "reverse": true, "nice": false, "zero": false},
                  "axis": {"orient": "top", "values": [0.5, 0.4, 0.3, 0.2, 0.1], "labelExpr": "replace(format(datum.value, '.1f'), '.', ',')", "title": null}},
            "y": {"field": "depth", "type": "quantitative", "scale": {"domain": [0, 60], "reverse": true, "nice": false}, "axis": null},
            "order": {"field": "depth", "type": "quantitative"}
          }
        },
        {
          "width": 563, "height": 172,
          "data": {"name": "cat"},
          "transform": [{"filter": "datum.panel === 'A/200+B/150+L'"}, {"fold": ["K", "Na", "Mg", "Ca"], "as": ["ion", "val"]}, {"stack": "val", "groupby": ["depth"], "as": ["x0", "x1"]}],
          "encoding": {
            "y": {"field": "depth", "type": "quantitative", "scale": {"domain": [0, 60], "reverse": true, "nice": false},
                  "axis": {"orient": "right", "offset": 6, "values": [0, 10, 20, 30, 40, 50, 60], "title": "cm", "titleFontSize": 16, "titleAngle": 0, "titleX": 22, "titleY": 198, "titleAlign": "center", "titleBaseline": "middle"}}
          },
          "layer": [
            {"transform": [{"filter": "datum.ion === 'K'"}], "mark": {"type": "area", "orient": "horizontal", "interpolate": "step-before", "fill": {"expr": "gK"}},
             "encoding": {"x": {"field": "x0", "type": "quantitative", "scale": {"domain": [0, 50.5], "nice": false}, "axis": {"orient": "top", "values": [0, 5, 10, 15, 20, 25, 30, 35, 40, 45, 50], "title": null}}, "x2": {"field": "x1"}}},
            {"transform": [{"filter": "datum.ion === 'Na'"}], "mark": {"type": "area", "orient": "horizontal", "interpolate": "step-before", "fill": {"expr": "gNa"}},
             "encoding": {"x": {"field": "x0", "type": "quantitative", "axis": {"orient": "top", "values": [0, 5, 10, 15, 20, 25, 30, 35, 40, 45, 50], "title": null}}, "x2": {"field": "x1"}}},
            {"transform": [{"filter": "datum.ion === 'Na'"}], "mark": {"type": "area", "orient": "horizontal", "interpolate": "step-before", "fill": {"expr": "gNa2"}},
             "encoding": {"x": {"field": "x0", "type": "quantitative", "axis": {"orient": "top", "values": [0, 5, 10, 15, 20, 25, 30, 35, 40, 45, 50], "title": null}}, "x2": {"field": "x1"}}},
            {"transform": [{"filter": "datum.ion === 'Mg'"}], "mark": {"type": "area", "orient": "horizontal", "interpolate": "step-before", "fill": {"expr": "gMg"}},
             "encoding": {"x": {"field": "x0", "type": "quantitative", "axis": {"orient": "top", "values": [0, 5, 10, 15, 20, 25, 30, 35, 40, 45, 50], "title": null}}, "x2": {"field": "x1"}}},
            {"transform": [{"filter": "datum.ion === 'Ca'"}], "mark": {"type": "area", "orient": "horizontal", "interpolate": "step-before", "fill": {"expr": "gCa"}},
             "encoding": {"x": {"field": "x0", "type": "quantitative", "axis": {"orient": "top", "values": [0, 5, 10, 15, 20, 25, 30, 35, 40, 45, 50], "title": null}}, "x2": {"field": "x1"}}},
            {"mark": {"type": "line", "interpolate": "step-before", "color": "black", "strokeWidth": 2.2},
             "encoding": {"x": {"field": "x1", "type": "quantitative", "axis": {"orient": "top", "values": [0, 5, 10, 15, 20, 25, 30, 35, 40, 45, 50], "title": null}},
                          "detail": {"field": "ion", "type": "nominal"}, "order": {"field": "depth", "type": "quantitative"}}}
          ]
        }
      ]
    }
  ]
}
